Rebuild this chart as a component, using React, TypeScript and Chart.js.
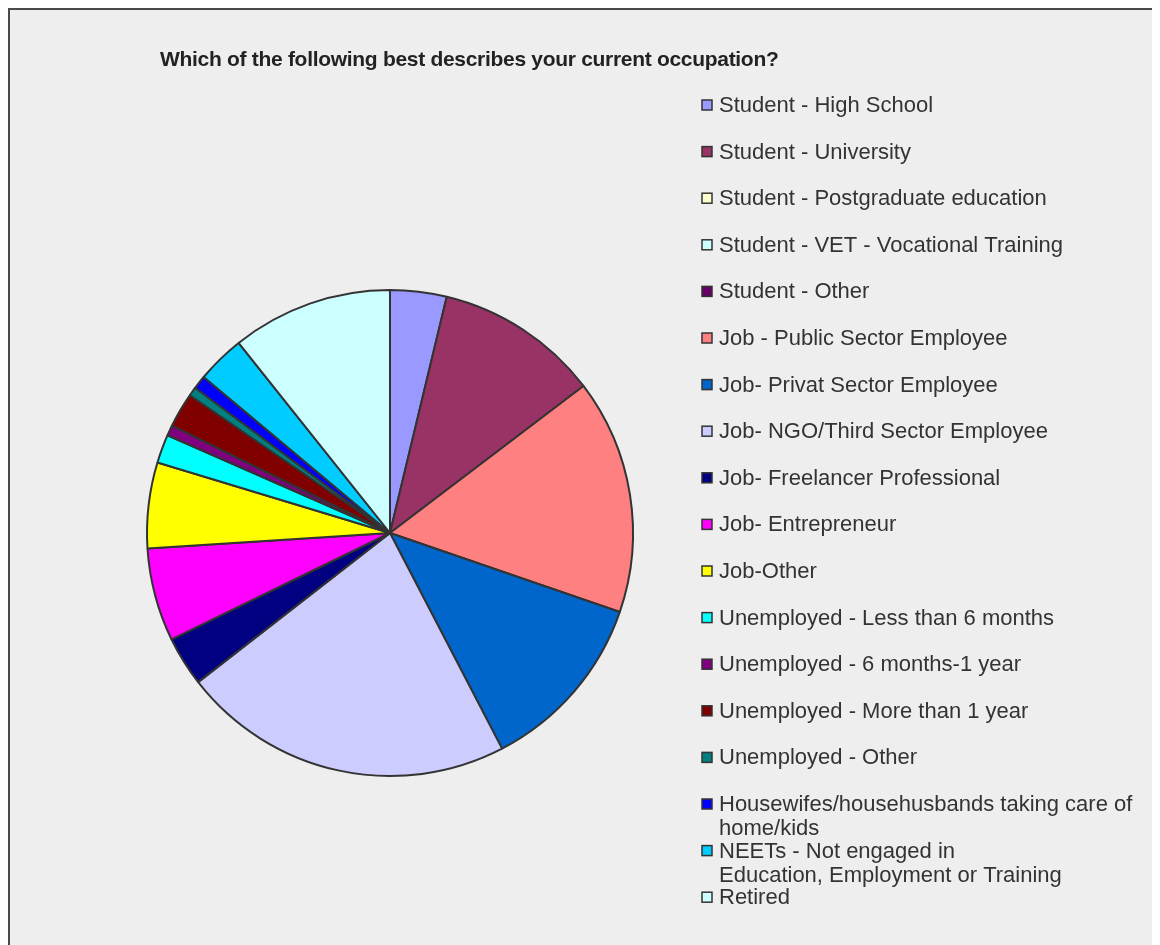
import React, { useEffect, useRef } from "react";
import { Chart, registerables } from "chart.js";

Chart.register(...registerables);

const TITLE = "Which of the following best describes your current occupation?";

const categories: string[] = [
  "Student - High School",
  "Student - University",
  "Student - Postgraduate education",
  "Student - VET - Vocational Training",
  "Student - Other",
  "Job - Public Sector Employee",
  "Job- Privat Sector Employee",
  "Job- NGO/Third Sector Employee",
  "Job- Freelancer Professional",
  "Job- Entrepreneur",
  "Job-Other",
  "Unemployed - Less than 6 months",
  "Unemployed - 6 months-1 year",
  "Unemployed - More than 1 year",
  "Unemployed - Other",
  "Housewifes/househusbands taking care of\nhome/kids",
  "NEETs - Not engaged in\nEducation, Employment or Training",
  "Retired",
];

const shares: number[] = [
  3.75, 10.9, 0, 0, 0, 15.6, 12.1, 22.1, 3.3, 6.2, 5.7, 1.9, 0.7, 2.3, 0.6, 0.9, 3.2, 10.7,
];

const colors: string[] = [
  "#9999FF", "#993366", "#FFFFCC", "#CCFFFF", "#660066", "#FF8080", "#0066CC", "#CCCCFF",
  "#000080", "#FF00FF", "#FFFF00", "#00FFFF", "#800080", "#800000", "#008080", "#0000FF",
  "#00CCFF", "#CCFFFF",
];

const customLegend = {
  id: "customLegend",
  afterDraw(chart: any) {
    const ctx = chart.ctx as CanvasRenderingContext2D;
    ctx.save();
    // title
    ctx.fillStyle = "#222";
    ctx.font = "bold 21px 'Liberation Sans', Arial, sans-serif";
    (ctx as any).letterSpacing = "-0.3px";
    ctx.textBaseline = "middle";
    ctx.textAlign = "left";
    ctx.fillText(TITLE, 150, 50);
    (ctx as any).letterSpacing = "0px";
    // legend
    const labels: string[] = chart.data.labels;
    const bg: string[] = chart.data.datasets[0].backgroundColor;
    const boxX = 692;
    const textX = 709;
    const startY = 95;
    const gap = 46.6;
    const lineH = 24;
    ctx.font = "22px 'Liberation Sans', Arial, sans-serif";
    labels.forEach((lab, i) => {
      const y = startY + i * gap;
      ctx.fillStyle = bg[i];
      ctx.fillRect(boxX, y - 5, 10, 10);
      ctx.strokeStyle = "#333";
      ctx.lineWidth = 1.5;
      ctx.strokeRect(boxX, y - 5, 10, 10);
      ctx.fillStyle = "#333";
      lab.split("\n").forEach((ln, k) => {
        ctx.fillText(ln, textX, y + k * lineH + 1);
      });
    });
    ctx.restore();
  },
};

export default function App() {
  const ref = useRef<HTMLCanvasElement>(null);
  useEffect(() => {
    if (!ref.current) return;
    const chart = new Chart(ref.current, {
      type: "pie",
      data: {
        labels: categories,
        datasets: [
          {
            data: shares,
            backgroundColor: colors,
            borderColor: "#333333",
            borderWidth: 2,
          },
        ],
      },
      options: {
        responsive: false,
        animation: false,
        radius: 243,
        layout: { padding: { left: 0, right: 390, top: 111, bottom: 0 } },
        plugins: {
          legend: { display: false },
          title: { display: false },
          tooltip: { enabled: false },
        },
      } as any,
      plugins: [customLegend],
    });
    return () => chart.destroy();
  }, []);
  return (
    <div
      style={{
        width: 1152,
        height: 937,
        boxSizing: "border-box",
        borderTop: "2px solid #4a4a4a",
        borderLeft: "2px solid #4a4a4a",
        background: "#EEEEEE",
        overflow: "hidden",
      }}
    >
      <canvas ref={ref} width={1150} height={935} style={{ display: "block" }} />
    </div>
  );
}
